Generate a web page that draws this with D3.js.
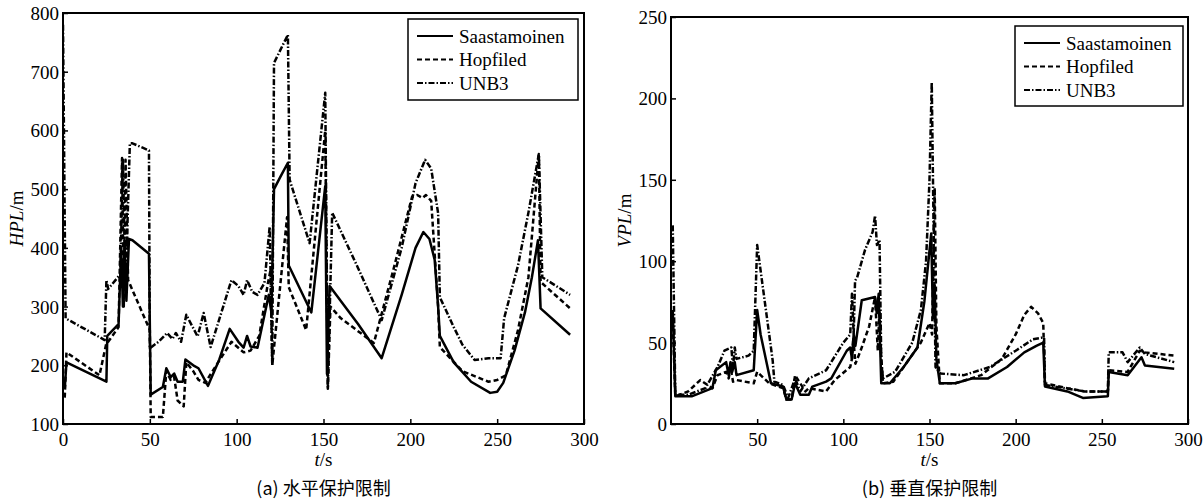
<!DOCTYPE html>
<html>
<head>
<meta charset="utf-8">
<script src="https://cdn.jsdelivr.net/npm/d3@7"></script>
<style>
  html, body { margin: 0; padding: 0; background: #fff; }
  svg { display: block; }
  .tick text { font-family: "Liberation Serif", "Times New Roman", serif; font-size: 19px; fill: #000; }
</style>
</head>
<body>
<svg id="chart" width="1204" height="501"></svg>
<script>
// ---- Series names and tick values ----
const seriesNames = ["Saastamoinen", "Hopfiled", "UNB3"];
const xTicksA = [0, 50, 100, 150, 200, 250, 300];
const yTicksA = [100, 200, 300, 400, 500, 600, 700, 800];
const xTicksB = [50, 100, 150, 200, 250, 300];
const yTicksB = [0, 50, 100, 150, 200, 250];

// ---- (a) HPL, Saastamoinen ----
const hplSaasT = [1, 2, 25, 25.5, 32, 33.5, 34.5, 35.5, 36.5, 38, 40, 49.5, 50.5, 57.5, 59.5, 62, 64, 66, 69, 70.5, 75, 78, 83.5, 90, 96, 101, 104, 106, 108, 112, 118.5, 120, 121.5, 125, 129.5, 130, 143, 151, 152, 153.5, 170, 183.5, 195, 203, 207.5, 211, 214, 216, 217, 225, 235, 246, 250, 253.5, 260, 266, 270, 273.5, 275, 292];
const hplSaasV = [160, 205, 172, 250, 270, 400, 300, 405, 310, 415, 413, 390, 150, 163, 195, 180, 186, 172, 172, 210, 200, 195, 165, 210, 262, 240, 230, 250, 232, 230, 320, 290, 500, 520, 545, 370, 290, 505, 185, 335, 270, 212, 320, 400, 427, 415, 380, 300, 250, 205, 172, 153, 155, 170, 225, 290, 350, 413, 297, 252];

// ---- (a) HPL, Hopfiled ----
const hplHopT = [1, 2, 21, 25, 26, 32, 34, 35, 36, 37.5, 50, 50.5, 57.5, 59.5, 62, 64, 66, 69.5, 71, 75, 78, 82, 85, 97, 104, 108, 113, 118, 119.5, 120.5, 129, 130, 140, 151, 152.5, 154, 160, 179, 190, 201, 204, 207, 209, 212, 216, 217, 230, 245, 250, 255, 262, 268, 274, 275, 292];
const hplHopV = [145, 222, 183, 238, 240, 265, 553, 300, 550, 345, 260, 112, 112, 190, 175, 180, 140, 130, 205, 190, 175, 170, 185, 240, 222, 225, 250, 340, 362, 200, 452, 333, 260, 600, 160, 300, 280, 238, 360, 487, 490, 485, 490, 480, 300, 231, 190, 172, 175, 183, 260, 350, 560, 342, 297];

// ---- (a) HPL, UNB3 ----
const hplUnbT = [0, 1.5, 24, 25, 26, 33, 34.5, 36, 38.5, 40, 49.5, 50, 55, 60, 63, 65, 68, 71, 77.5, 81, 85, 97, 101, 104, 106, 109, 112, 116, 119, 120.5, 121.5, 129.5, 130.5, 142, 151, 152.5, 155, 170, 183.5, 195, 203, 208.5, 212, 216, 217, 225, 230, 237, 245, 252, 254, 262, 268, 274, 276, 292];
const hplUnbV = [780, 280, 243, 345, 330, 355, 550, 330, 578, 578, 566, 229, 240, 255, 245, 255, 240, 286, 249, 289, 231, 345, 335, 320, 345, 325, 320, 340, 436, 200, 715, 763, 516, 408, 664, 163, 460, 365, 277, 400, 510, 550, 535, 459, 316, 265, 235, 209, 212, 212, 280, 370, 460, 560, 350, 320];

// ---- (b) VPL, Saastamoinen ----
const vplSaasT = [1, 2.5, 12, 24, 26, 32, 33.5, 34.5, 35.5, 37, 38, 48, 50, 52, 58, 65, 67, 70, 72, 75, 80, 82, 90, 93, 102, 104, 105, 106, 107, 110.7, 118.4, 119.4, 120.5, 122, 127, 135, 143, 147, 151, 152, 153, 154, 156, 165, 175, 184, 195, 205, 212, 216, 217, 230, 239, 253.5, 254, 265, 273, 275, 292];
const vplSaasV = [70, 17, 17, 22, 33, 38, 30, 38, 32, 38, 30, 33, 70, 55, 25, 23, 15, 15, 25, 18, 18, 23, 26, 28, 45, 47, 40, 55, 48, 76, 78, 68, 80, 25, 25, 35, 47, 75, 117, 65, 85, 40, 25, 25, 28, 28, 35, 44, 48, 50, 23, 20, 16, 17, 32, 30, 41, 36, 34];

// ---- (b) VPL, Hopfiled ----
const vplHopT = [1, 2.5, 10, 17, 24, 27, 32, 33.5, 34.5, 36, 38, 48, 50, 57, 65, 67, 70, 72, 78, 80, 90, 95, 104, 105, 105.8, 107, 110, 115, 118.4, 120, 121, 122, 123, 129, 135, 145, 150, 151.5, 153, 154, 156, 165, 180, 192, 200, 205, 209, 213, 216, 217, 230, 240, 253.5, 254, 265, 272, 275, 292];
const vplHopV = [65, 17, 20, 27, 22, 30, 32, 28, 35, 26, 27, 25, 32, 25, 22, 15, 15, 30, 20, 22, 20, 27, 35, 40, 53, 37, 45, 60, 78, 45, 70, 40, 25, 26, 35, 50, 62, 55, 145, 60, 25, 25, 30, 40, 55, 67, 72, 68, 62, 25, 22, 20, 20, 33, 32, 45, 44, 42];

// ---- (b) VPL, UNB3 ----
const vplUnbT = [1, 2.5, 10, 20, 27, 31, 35, 36, 37, 38, 45, 48, 50, 59, 60, 65, 68, 72, 75, 80, 90, 100, 104, 105, 106, 106.8, 108, 112.6, 117, 118.4, 119.5, 121, 122, 123, 130, 140, 145, 148, 150, 151.3, 152.5, 153.5, 156, 170, 185, 200, 210, 215, 216.5, 217, 240, 253.5, 254, 262, 265, 272, 275, 292];
const vplUnbV = [122, 18, 18, 22, 35, 45, 47, 35, 47, 40, 42, 45, 110, 39, 26, 24, 16, 28, 20, 28, 33, 50, 55, 80, 55, 88, 90, 107, 118, 128, 110, 113, 40, 28, 32, 50, 70, 100, 150, 210, 110, 35, 31, 30, 35, 45, 52, 53, 53, 24, 20, 20, 44, 44, 38, 47, 43, 38];

// ---- Line styles per series ----
const dashes = [null, "5,3", "6,2,1.5,2"];

const svg = d3.select("#chart");
const serif = '"Liberation Serif", "Times New Roman", serif';

function zip(t, v) { return t.map((d, i) => ({ t: d, v: v[i] })); }

function panel(opt) {
  const x = d3.scaleLinear().domain([0, 300]).range([opt.x0, opt.x1]);
  const y = d3.scaleLinear().domain(opt.yDomain).range([opt.y1, opt.y0]);
  const g = svg.append("g");

  const clipId = "clip" + opt.id;
  svg.append("clipPath").attr("id", clipId).append("rect")
    .attr("x", opt.x0).attr("y", opt.y0)
    .attr("width", opt.x1 - opt.x0).attr("height", opt.y1 - opt.y0);

  // series lines
  const line = d3.line().x(d => x(d.t)).y(d => y(d.v));
  opt.series.forEach((s, i) => {
    g.append("path")
      .attr("clip-path", `url(#${clipId})`)
      .attr("d", line(zip(s[0], s[1])))
      .attr("fill", "none")
      .attr("stroke", "#000")
      .attr("stroke-width", 2.5)
      .attr("stroke-linejoin", "round")
      .attr("stroke-dasharray", dashes[i]);
  });

  // axes with inward ticks
  const xAxis = d3.axisBottom(x).tickValues(opt.xTicks).tickSize(-5).tickPadding(9).tickFormat(d3.format("d"));
  const yAxis = d3.axisLeft(y).tickValues(opt.yTicks).tickSize(-5).tickPadding(4).tickFormat(d3.format("d"));
  const gx = g.append("g").attr("transform", `translate(0,${opt.y1})`).call(xAxis);
  const gy = g.append("g").attr("transform", `translate(${opt.x0},0)`).call(yAxis);
  [gx, gy].forEach(a => {
    a.select(".domain").remove();
    a.selectAll(".tick line").attr("stroke", "#000").attr("stroke-width", 1.5);
  });
  gy.selectAll(".tick text").attr("dy", "0.34em");

  // frame
  g.append("rect")
    .attr("x", opt.x0).attr("y", opt.y0)
    .attr("width", opt.x1 - opt.x0).attr("height", opt.y1 - opt.y0)
    .attr("fill", "none").attr("stroke", "#000").attr("stroke-width", 2);

  // y title
  const yt = g.append("text")
    .attr("transform", `translate(${opt.x0 - 40},${(opt.y0 + opt.y1) / 2}) rotate(-90)`)
    .attr("text-anchor", "middle")
    .style("font-family", serif).style("font-size", "19px");
  yt.append("tspan").style("font-style", "italic").text(opt.yName);
  yt.append("tspan").text("/m");

  // x title
  const xt = g.append("text")
    .attr("x", (opt.x0 + opt.x1) / 2).attr("y", opt.y1 + 42)
    .attr("text-anchor", "middle")
    .style("font-family", serif).style("font-size", "19px");
  xt.append("tspan").style("font-style", "italic").text("t");
  xt.append("tspan").text("/s");

  // caption
  g.append("text")
    .attr("x", (opt.x0 + opt.x1) / 2).attr("y", opt.y1 + 71)
    .attr("text-anchor", "middle")
    .style("font-family", '"Noto Sans CJK SC", "Noto Sans", sans-serif')
    .style("font-size", "18px")
    .text(opt.caption);

  // legend
  const L = opt.legend;
  g.append("rect").attr("x", L.x).attr("y", L.y).attr("width", L.w).attr("height", L.h)
    .attr("fill", "#fff").attr("stroke", "#000").attr("stroke-width", 1.5);
  seriesNames.forEach((name, i) => {
    const ly = L.y + 17 + i * 23.5;
    g.append("line")
      .attr("x1", L.x + 9).attr("x2", L.x + 45).attr("y1", ly).attr("y2", ly)
      .attr("stroke", "#000").attr("stroke-width", 2.2)
      .attr("stroke-dasharray", dashes[i]);
    g.append("text")
      .attr("x", L.x + 51).attr("y", ly).attr("dy", "0.35em")
      .style("font-family", serif).style("font-size", "19px")
      .text(name);
  });
}

panel({
  id: "a", x0: 63, x1: 584, y0: 13, y1: 424, yDomain: [100, 800],
  xTicks: xTicksA, yTicks: yTicksA, yName: "HPL", caption: "(a)  水平保护限制",
  legend: { x: 408, y: 19, w: 170, h: 81 },
  series: [[hplSaasT, hplSaasV], [hplHopT, hplHopV], [hplUnbT, hplUnbV]]
});

panel({
  id: "b", x0: 671, x1: 1188, y0: 17, y1: 424, yDomain: [0, 250],
  xTicks: xTicksB, yTicks: yTicksB, yName: "VPL", caption: "(b)  垂直保护限制",
  legend: { x: 1015, y: 26, w: 168, h: 80 },
  series: [[vplSaasT, vplSaasV], [vplHopT, vplHopV], [vplUnbT, vplUnbV]]
});
</script>
</body>
</html>
